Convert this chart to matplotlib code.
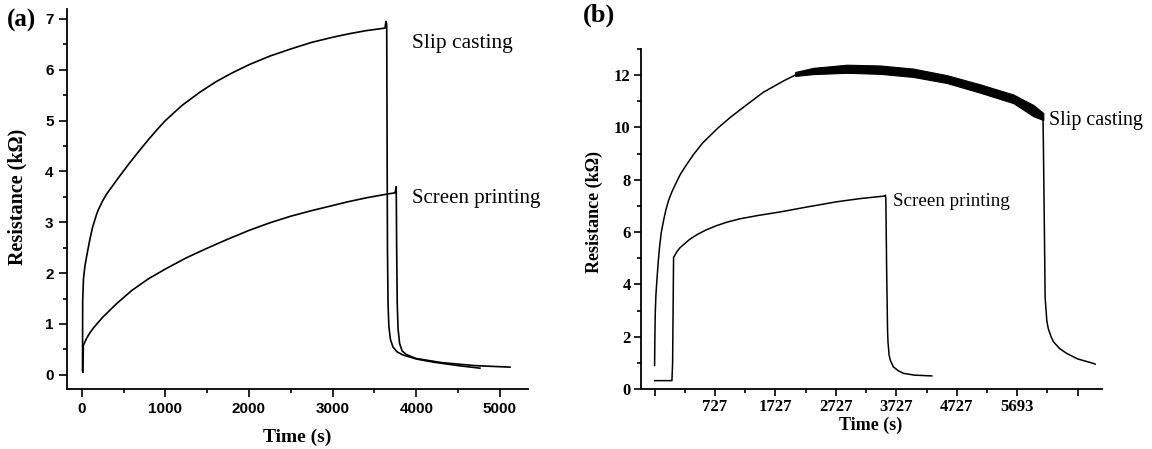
import matplotlib
matplotlib.use("Agg")
import matplotlib.pyplot as plt
import numpy as np

# ---------------- data: panel (a) ----------------
a_slip_t = [10, 12, 22, 40, 66, 100, 130, 177, 200, 250, 300, 353, 450, 574, 700, 800, 900, 1000,
            1200, 1414, 1600, 1800, 2000, 2250, 2500, 2750, 3000, 3200, 3400, 3625,
            3637, 3646, 3650, 3655, 3662, 3672, 3690, 3720, 3770, 3840, 3920, 4000, 4200, 4500, 4760]
a_slip_r = [0.08, 1.45, 1.9, 2.15, 2.39, 2.68, 2.9, 3.15, 3.25, 3.42, 3.56, 3.68, 3.9, 4.17, 4.43,
            4.63, 4.82, 5.0, 5.3, 5.56, 5.76, 5.94, 6.10, 6.27, 6.41, 6.54, 6.64, 6.71, 6.77, 6.82,
            6.95, 6.9, 5.0, 2.5, 1.4, 0.95, 0.7, 0.55, 0.45, 0.39, 0.35, 0.31, 0.25, 0.18, 0.13]

a_scr_t = [15, 20, 60, 100, 150, 250, 418, 600, 800, 1000, 1250, 1500, 1750, 2000, 2250, 2500,
           2750, 3000, 3200, 3400, 3600, 3745,
           3760, 3765, 3772, 3782, 3800, 3830, 3880, 3950, 4000, 4300, 4700, 5120]
a_scr_r = [0.05, 0.58, 0.72, 0.83, 0.94, 1.13, 1.40, 1.66, 1.89, 2.08, 2.3, 2.49, 2.67, 2.84,
           2.99, 3.12, 3.23, 3.33, 3.41, 3.48, 3.54, 3.58,
           3.70, 2.5, 1.4, 0.9, 0.62, 0.47, 0.40, 0.35, 0.32, 0.24, 0.18, 0.15]

# ---------------- data: panel (b) ----------------
b_slip_t = [0, 5, 11, 22, 38, 60, 82, 110, 149, 190, 231, 285, 341, 424, 500, 645, 800, 1058,
            1250, 1485, 1802, 2150, 2326,
            2629, 3181, 3732, 4283, 4834, 5385, 5936, 6267, 6427,
            6435, 6450, 6462, 6490, 6515, 6560, 6598, 6700, 6819, 7000, 7259, 7290]
b_slip_r = [0.9, 2.0, 2.9, 3.6, 4.16, 4.85, 5.43, 5.98, 6.45, 6.88, 7.21, 7.53, 7.81, 8.2, 8.48,
            8.97, 9.42, 10.0, 10.38, 10.8, 11.35, 11.8, 12.0,
            12.16, 12.25, 12.21, 12.09, 11.85, 11.49, 11.09, 10.65, 10.35,
            9.0, 6.0, 3.5, 2.6, 2.3, 2.0, 1.81, 1.55, 1.36, 1.15, 0.98, 0.95]

b_band_t = [2326, 2629, 3181, 3732, 4283, 4834, 5385, 5936, 6267, 6432]
b_band_hi = [12.12, 12.28, 12.40, 12.37, 12.25, 12.0, 11.65, 11.26, 10.86, 10.55]
b_band_lo = [11.97, 12.04, 12.09, 12.05, 11.93, 11.70, 11.33, 10.93, 10.43, 10.28]

b_scr_t = [0, 287, 298, 314, 369, 420, 479, 580, 700, 850, 1030, 1200, 1416, 1700, 2077, 2500,
           3018, 3400, 3813, 3818,
           3826, 3840, 3855, 3862, 3880, 3900, 3950, 4030, 4117, 4300, 4586]
b_scr_r = [0.32, 0.32, 1.0, 5.03, 5.25, 5.4, 5.52, 5.72, 5.9, 6.08, 6.25, 6.38, 6.51, 6.63,
           6.77, 6.95, 7.16, 7.28, 7.38, 7.41,
           7.3, 4.5, 2.2, 1.8, 1.3, 1.1, 0.85, 0.7, 0.6, 0.53, 0.5]

b_xtick_pos = [0, 1000, 2000, 3000, 4000, 5000, 6000, 7000]
b_xtick_lab = ['', '727', '1727', '2727', '3727', '4727', '5693', '']

W, H = 1152, 449
fig = plt.figure(figsize=(W / 100, H / 100), dpi=100)

def fx(px):
    return px / W

def fy(py):
    return 1 - py / H

SERIF = 'Liberation Serif'
SANS = 'Liberation Sans'

# ---------------- panel (a) ----------------
axA = fig.add_axes([fx(66.7), fy(389), fx(528) - fx(66.7), fy(9.3) - fy(389)])
axA.plot(a_slip_t, a_slip_r, color='black', lw=1.2, solid_joinstyle='round')
axA.plot(a_scr_t, a_scr_r, color='black', lw=1.2, solid_joinstyle='round')
axA.set_xlim(-179, 5335)
axA.set_ylim(-0.28, 7.19)
axA.set_xticks(np.arange(0, 5001, 1000))
axA.set_xticks(np.arange(500, 5001, 1000), minor=True)
axA.set_yticks(np.arange(0, 8, 1))
axA.set_yticks(np.arange(0.5, 7.0, 1), minor=True)
for s in ['top', 'right']:
    axA.spines[s].set_visible(False)
for s in ['left', 'bottom']:
    axA.spines[s].set_linewidth(1.3)
axA.tick_params(which='major', direction='out', length=5.8, width=1.2, pad=3.6)
axA.tick_params(which='minor', direction='out', length=3.2, width=1.2)
for lab in axA.get_xticklabels() + axA.get_yticklabels():
    lab.set_fontfamily(SANS)
    lab.set_fontweight('bold')
    lab.set_fontsize(11)
axA.text(3952, 6.52, 'Slip casting', family=SERIF, fontsize=15.5, ha='left', va='center')
axA.text(3952, 3.47, 'Screen printing', family=SERIF, fontsize=15, ha='left', va='center')

fig.text(fx(297), fy(437), 'Time (s)', family=SERIF, fontweight='bold', fontsize=14,
         ha='center', va='center')
fig.text(fx(17), fy(197), 'Resistance (k\u03a9)', family=SERIF, fontweight='bold', fontsize=14.5,
         ha='center', va='center', rotation=90)
fig.text(fx(7), fy(20), '(a)', family=SERIF, fontweight='bold', fontsize=18,
         ha='left', va='center')

# ---------------- panel (b) ----------------
axB = fig.add_axes([fx(641), fy(389), fx(1101.7) - fx(641), fy(49) - fy(389)])
axB.plot(b_slip_t, b_slip_r, color='black', lw=1.1, solid_joinstyle='round')
axB.fill_between(b_band_t, b_band_lo, b_band_hi, color='black', lw=0.8)
axB.plot(b_scr_t, b_scr_r, color='black', lw=1.1, solid_joinstyle='round')
axB.set_xlim(-225, 7398)
axB.set_ylim(0, 13)
axB.set_xticks(b_xtick_pos)
axB.set_xticklabels(b_xtick_lab)
axB.set_xticks(np.arange(500, 7001, 1000), minor=True)
axB.set_yticks(np.arange(0, 13, 2))
axB.set_yticks(np.arange(1, 14, 2), minor=True)
for s in ['top', 'right']:
    axB.spines[s].set_visible(False)
for s in ['left', 'bottom']:
    axB.spines[s].set_linewidth(1.3)
axB.tick_params(which='major', direction='out', length=5, width=1.2, pad=2.5)
axB.tick_params(which='minor', direction='out', length=3, width=1.2)
for lab in axB.get_xticklabels() + axB.get_yticklabels():
    lab.set_fontfamily(SERIF)
    lab.set_fontweight('bold')
    lab.set_fontsize(12)
axB.text(6526, 10.27, 'Slip casting', family=SERIF, fontsize=14.3, ha='left', va='center')
axB.text(3952, 7.15, 'Screen printing', family=SERIF, fontsize=13.7, ha='left', va='center')

fig.text(fx(871), fy(425), 'Time (s)', family=SERIF, fontweight='bold', fontsize=13,
         ha='center', va='center')
fig.text(fx(594), fy(212), 'Resistance (k\u03a9)', family=SERIF, fontweight='bold', fontsize=13,
         ha='center', va='center', rotation=90)
fig.text(fx(583), fy(15), '(b)', family=SERIF, fontweight='bold', fontsize=19,
         ha='left', va='center')

fig.savefig('out.png', dpi=100)
